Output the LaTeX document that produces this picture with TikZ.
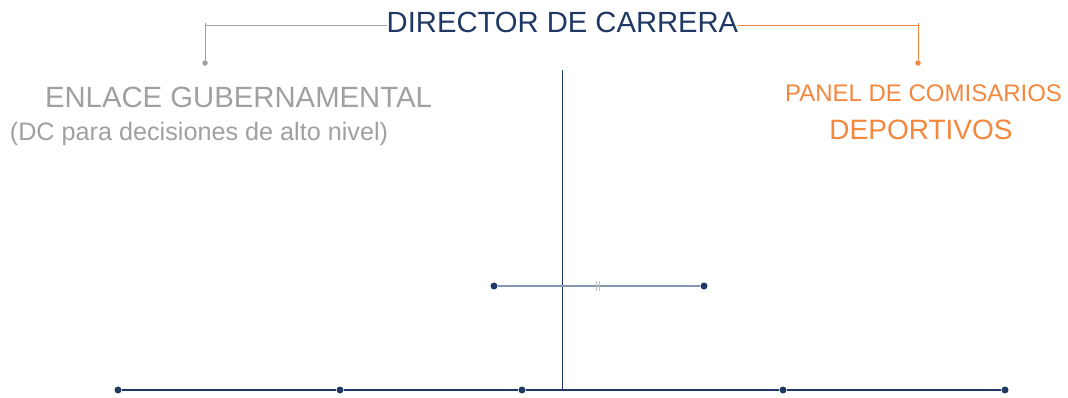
\documentclass[tikz,border=0pt]{standalone}
\usepackage{fontspec}
\setmainfont{Liberation Sans}
\definecolor{azul}{HTML}{203864}
\definecolor{azulclaro}{HTML}{8497B0}
\definecolor{gris}{HTML}{A0A0A0}
\definecolor{naranja}{HTML}{F4873E}
\tikzset{
  punto/.style={circle,fill=azul,inner sep=0pt,minimum size=7pt},
  texto/.style={inner sep=0pt,anchor=base},
}
\begin{document}
\begin{tikzpicture}[x=1pt,y=-1pt]
  \useasboundingbox (0,0) rectangle (1068,397);
  % titulo
  \node[texto,text=azul,font=\fontsize{29.2}{31}\selectfont] (director) at (562.5,32) {DIRECTOR DE CARRERA};
  % rama izquierda (gris)
  \node[texto,text=gris,font=\fontsize{29.3}{31}\selectfont] (enlace) at (238.5,107) {ENLACE GUBERNAMENTAL};
  \node[texto,text=gris,font=\fontsize{25.2}{27}\selectfont] (dc) at (199,140) {(DC para decisiones de alto nivel)};
  \coordinate (gi) at (205,25);
  \node[circle,fill=gris,inner sep=0pt,minimum size=5.5pt] (pgris) at (205,63) {};
  \draw[gris,line width=1pt] (director.west|-gi) -- (gi) -- (pgris);
  \draw[gris,line width=0.6pt] (205,22.5) -- (205,27.5);
  % rama derecha (naranja)
  \node[texto,text=naranja,font=\fontsize{24}{26}\selectfont] (panel) at (923.5,101.5) {PANEL DE COMISARIOS};
  \node[texto,text=naranja,font=\fontsize{28}{30}\selectfont] (deportivos) at (921,139) {DEPORTIVOS};
  \coordinate (gd) at (918,25);
  \node[circle,fill=naranja,inner sep=0pt,minimum size=5.5pt] (pnaranja) at (918,63) {};
  \draw[naranja,line width=1pt] (director.east|-gd) -- (gd) -- (pnaranja);
  \draw[naranja,line width=0.6pt] (918,22.5) -- (918,27.5);
  % eje vertical
  \coordinate (arriba) at (562.5,70);
  \coordinate (abajo) at (562.5,390);
  \draw[azul,line width=1.3pt] (arriba) -- (abajo);
  % linea intermedia
  \node[punto] (m1) at (494,286) {};
  \node[punto] (m2) at (704,286) {};
  \draw[azulclaro,line width=2.2pt] (m1) -- (m2);
  \draw[gris!70,line width=0.8pt] (596.5,281) -- (596.5,291) (599.5,281) -- (599.5,291);
  % linea inferior
  \foreach \x [count=\i] in {118,340,522,783,1005}
    \node[punto] (b\i) at (\x,390) {};
  \draw[azul,line width=2pt] (b1) -- (b2) -- (b3) -- (b4) -- (b5);
\end{tikzpicture}
\end{document}
